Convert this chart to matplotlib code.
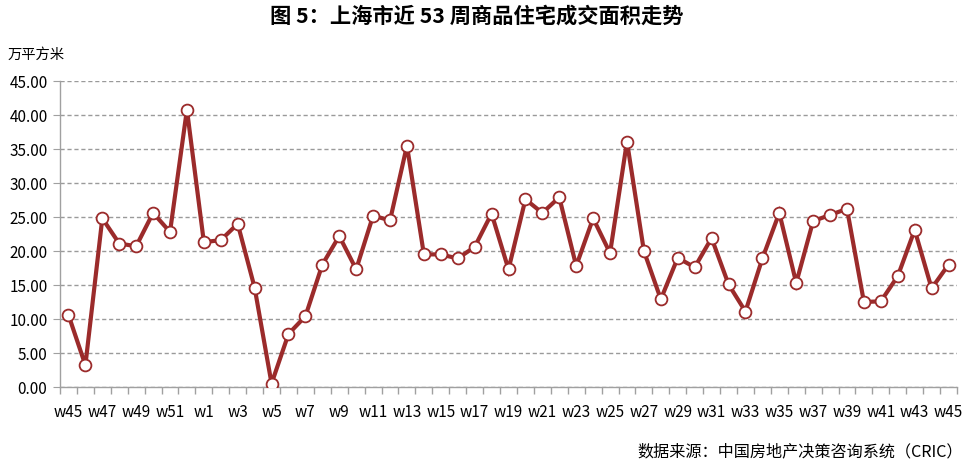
import matplotlib
matplotlib.use("Agg")
import matplotlib.pyplot as plt
from matplotlib.ticker import FixedLocator, FuncFormatter

plt.rcParams['font.family'] = ['Noto Sans CJK SC', 'DejaVu Sans']

weeks = ["w45", "w46", "w47", "w48", "w49", "w50", "w51", "w52"] + [f"w{i}" for i in range(1, 46)]
values = [10.6, 3.2, 24.8, 21.1, 20.7, 25.6, 22.8, 40.8,
          21.3, 21.6, 24.0, 14.6, 0.5, 7.8, 10.4, 18.0, 22.2, 17.3,
          25.2, 24.5, 35.5, 19.5, 19.5, 18.9, 20.6, 25.5, 17.3, 27.6,
          25.6, 27.9, 17.8, 24.8, 19.7, 36.1, 20.0, 12.9, 19.0, 17.6,
          21.9, 15.1, 11.1, 18.9, 25.6, 15.3, 24.4, 25.3, 26.2, 12.5,
          12.6, 16.3, 23.1, 14.5, 18.0]
yticks = [0, 5, 10, 15, 20, 25, 30, 35, 40, 45]

title = "图 5：上海市近 53 周商品住宅成交面积走势"
unit = "万平方米"
source = "数据来源：中国房地产决策咨询系统（CRIC）"

fig = plt.figure(figsize=(9.69, 4.65), dpi=100)
ax = fig.add_axes([60/969, 1 - 387/465, (957-60)/969, (387-81)/465])

x = list(range(len(values)))
ax.plot(x, values, color='#9B2B2B', lw=3, marker='o', markersize=8.5,
        markerfacecolor='white', markeredgecolor='#9B2B2B', markeredgewidth=1.3,
        zorder=3, solid_joinstyle='miter')

ax.set_xlim(-0.5, len(values) - 0.5)
ax.set_ylim(0, 45)
ax.set_yticks(yticks)
ax.yaxis.set_major_formatter(FuncFormatter(lambda v, p: f"{v:.2f}"))
ax.yaxis.grid(True, color='#9A9A9A', linestyle=(0, (3, 2)), lw=1)
ax.set_axisbelow(True)

major = list(range(0, len(values), 2))
ax.set_xticks(major)
ax.set_xticklabels([weeks[i] for i in major])
ax.xaxis.set_minor_locator(FixedLocator([i - 0.5 for i in range(len(values) + 1)]))
ax.tick_params(axis='x', which='major', length=0, pad=12, labelsize=11)
ax.tick_params(axis='x', which='minor', length=5, color='#A0A0A0', width=1)
ax.tick_params(axis='y', length=5, color='#A0A0A0', labelsize=11, pad=4)

for s in ['top', 'right']:
    ax.spines[s].set_visible(False)
for s in ['left', 'bottom']:
    ax.spines[s].set_color('#A0A0A0')
    ax.spines[s].set_linewidth(1)

fig.text(477/969, 1 - 16/465, title, ha='center', va='center', fontsize=15.3, fontweight='bold')
fig.text(8/969, 1 - 55/465, unit, ha='left', va='center', fontsize=10.3)
fig.text(963/969, 1 - 452/465, source, ha='right', va='center', fontsize=11.6)

fig.savefig("out.png", dpi=100)
